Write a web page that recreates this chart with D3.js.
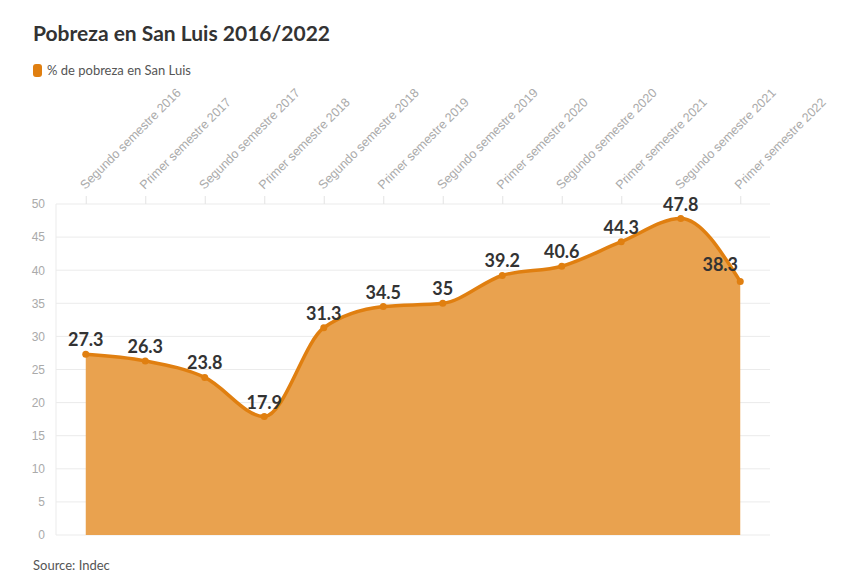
<!DOCTYPE html>
<html>
<head>
<meta charset="utf-8">
<script src="https://cdn.jsdelivr.net/npm/d3@7"></script>
<style>
  body { margin: 0; background: #fff; font-family: "Source Sans Pro", Lato, "Open Sans", sans-serif; }
  .title { font-size: 21px; font-weight: 700; fill: #333; }
  .legend-text, .source { font-size: 13px; fill: #555; }
  .y-axis text { font-size: 12px; fill: #aaa; }
  .x-axis text { font-size: 12.5px; fill: #aaa; }
  .value-label { font-size: 18px; font-weight: 700; fill: #333; }
</style>
</head>
<body>
<div id="chart"></div>
<script>
const categories = [
  "Segundo semestre 2016", "Primer semestre 2017", "Segundo semestre 2017",
  "Primer semestre 2018", "Segundo semestre 2018", "Primer semestre 2019",
  "Segundo semestre 2019", "Primer semestre 2020", "Segundo semestre 2020",
  "Primer semestre 2021", "Segundo semestre 2021", "Primer semestre 2022"
];
const values = [27.3, 26.3, 23.8, 17.9, 31.3, 34.5, 35, 39.2, 40.6, 44.3, 47.8, 38.3];
const yTicks = [0, 5, 10, 15, 20, 25, 30, 35, 40, 45, 50];

const width = 857, height = 588;
const margin = { top: 204, right: 87, bottom: 53, left: 56 };
const innerWidth = width - margin.left - margin.right;
const innerHeight = height - margin.top - margin.bottom;

const lineColor = "#e07f10";
const fillColor = "#e9a24f";

const svg = d3.select("#chart").append("svg")
  .attr("width", width)
  .attr("height", height);

svg.append("text").attr("class", "title")
  .attr("x", 33).attr("y", 41)
  .text("Pobreza en San Luis 2016/2022");

svg.append("rect")
  .attr("x", 33).attr("y", 64).attr("width", 9).attr("height", 13)
  .attr("rx", 3).attr("fill", lineColor);
svg.append("text").attr("class", "legend-text")
  .attr("x", 47).attr("y", 75)
  .text("% de pobreza en San Luis");

svg.append("text").attr("class", "source")
  .attr("x", 33).attr("y", 570)
  .text("Source: Indec");

const g = svg.append("g")
  .attr("transform", `translate(${margin.left},${margin.top})`);

const x = d3.scalePoint().domain(categories).range([0, innerWidth]).padding(0.5);
const y = d3.scaleLinear().domain([0, 50]).range([innerHeight, 0]);

// horizontal grid
g.append("g").attr("class", "grid")
  .selectAll("line").data(yTicks).join("line")
  .attr("x1", 0).attr("x2", innerWidth)
  .attr("y1", d => y(d)).attr("y2", d => y(d))
  .attr("stroke", "#ebebeb").attr("stroke-width", 1);

// left vertical line
g.append("line")
  .attr("x1", 0).attr("x2", 0).attr("y1", 0).attr("y2", innerHeight)
  .attr("stroke", "#ebebeb");

// y axis labels
const yAxis = g.append("g").attr("class", "y-axis")
  .attr("transform", "translate(-6,0)")
  .call(d3.axisLeft(y).tickValues(yTicks).tickSize(0).tickPadding(5));
yAxis.select(".domain").remove();

// x axis on top
const xAxis = g.append("g").attr("class", "x-axis")
  .call(d3.axisTop(x).tickSize(8).tickPadding(4));
xAxis.select(".domain").remove();
xAxis.selectAll(".tick line").attr("stroke", "#e3e3e3");
xAxis.selectAll(".tick text")
  .attr("x", 0).attr("y", 0).attr("dy", 0)
  .attr("text-anchor", "start")
  .attr("transform", "translate(-1,-14) rotate(-45)");

const data = categories.map((c, i) => ({ name: c, value: values[i] }));

const area = d3.area()
  .x(d => x(d.name)).y0(y(0)).y1(d => y(d.value))
  .curve(d3.curveMonotoneX);
const line = d3.line()
  .x(d => x(d.name)).y(d => y(d.value))
  .curve(d3.curveMonotoneX);

g.append("path").datum(data)
  .attr("d", area).attr("fill", fillColor);

g.append("path").datum(data)
  .attr("d", line).attr("fill", "none")
  .attr("stroke", lineColor).attr("stroke-width", 3.5)
  .attr("stroke-linejoin", "round");

g.selectAll("circle.pt").data(data).join("circle")
  .attr("class", "pt")
  .attr("cx", d => x(d.name)).attr("cy", d => y(d.value))
  .attr("r", 3.5).attr("fill", lineColor);

g.selectAll("text.value-label").data(data).join("text")
  .attr("class", "value-label")
  .attr("text-anchor", "middle")
  .attr("x", (d, i) => x(d.name) - (i === data.length - 1 ? 20 : 0))
  .attr("y", (d, i) => y(d.value) - (i === data.length - 1 ? 10 : 8))
  .text(d => d.value);
</script>
</body>
</html>
